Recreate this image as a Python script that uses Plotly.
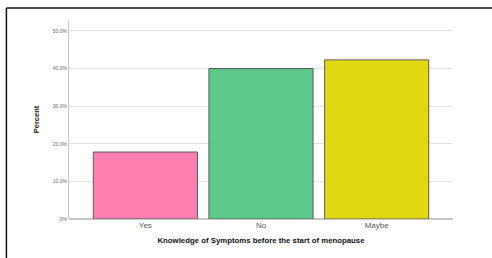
import plotly.graph_objects as go

categories = ["Yes", "No", "Maybe"]
percent_values = [17.8, 40.0, 42.3]
bar_colors = ["#FF80B0", "#5CC98A", "#E2D812"]
tick_values = [0, 10, 20, 30, 40, 50]
tick_labels = [".0%", "10.0%", "20.0%", "30.0%", "40.0%", "50.0%"]

fig = go.Figure(
    go.Bar(
        x=categories,
        y=percent_values,
        marker=dict(color=bar_colors, line=dict(color="#5a5a5a", width=1)),
        showlegend=False,
    )
)

font_family = "Liberation Sans, Arial, sans-serif"

fig.update_layout(
    width=492,
    height=258,
    margin=dict(l=69, r=39, t=20, b=39),
    paper_bgcolor="white",
    plot_bgcolor="white",
    bargap=0.1,
    font=dict(family=font_family, color="#333333"),
    xaxis=dict(
        range=[-0.66, 2.66],
        showgrid=False,
        showline=False,
        ticks="",
        tickfont=dict(size=8, color="#555555"),
        title=dict(
            text="<b>Knowledge of Symptoms before the start of menopause</b>",
            font=dict(size=7.8, color="#111111"),
            standoff=8,
        ),
    ),
    yaxis=dict(
        range=[0, 52.9],
        tickvals=tick_values,
        ticktext=tick_labels,
        tickfont=dict(size=5, color="#666666"),
        showgrid=True,
        gridcolor="#e2e2e2",
        gridwidth=1,
        showline=True,
        linecolor="#c8c8c8",
        linewidth=1,
        zeroline=True,
        zerolinecolor="#c8c8c8",
        zerolinewidth=1.5,
        ticks="",
        ticklen=0,
        title=dict(
            text="<b>Percent</b>",
            font=dict(size=7.5, color="#111111"),
            standoff=12,
        ),
    ),
    shapes=[
        dict(type="line", xref="paper", yref="paper", x0=-0.163, x1=1.2, y0=1.060, y1=1.060,
             line=dict(color="#111111", width=1.5)),
        dict(type="line", xref="paper", yref="paper", x0=-0.163, x1=-0.163, y0=1.060, y1=-0.3,
             line=dict(color="#111111", width=1.5)),
    ],
)

fig.write_html(
    "out.html",
    config={"displayModeBar": False},
    post_script="document.body.style.margin='0';",
)
